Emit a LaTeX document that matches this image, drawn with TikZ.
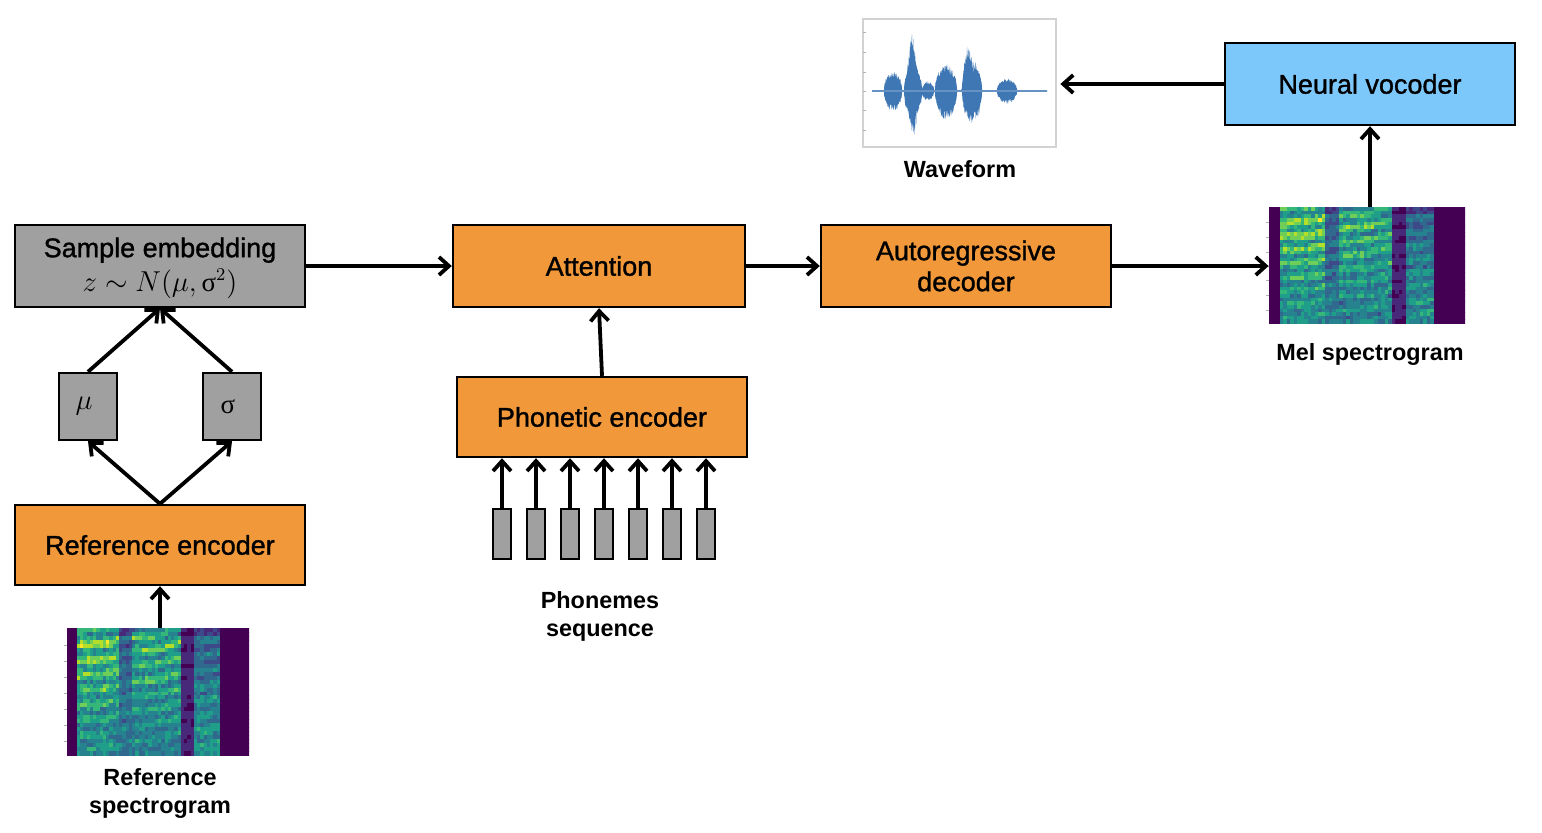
\documentclass[tikz,border=0pt]{standalone}
\usepackage[no-math]{fontspec}
\setmainfont{Liberation Sans}
\newfontfamily\grk{Liberation Serif}
\newfontfamily\boxfont[FakeBold=1.2]{Liberation Sans}
\usetikzlibrary{arrows.meta,calc}
\definecolor{orng}{HTML}{F0983A}
\definecolor{gry}{HTML}{A0A0A0}
\definecolor{sky}{HTML}{7DC8FA}
\definecolor{wblue}{HTML}{3E77B3}
\definecolor{vir0}{HTML}{440154}
\definecolor{vir1}{HTML}{482878}
\definecolor{vir2}{HTML}{3E4989}
\definecolor{vir3}{HTML}{31688E}
\definecolor{vir4}{HTML}{26828E}
\definecolor{vir5}{HTML}{1F9E89}
\definecolor{vir6}{HTML}{35B779}
\definecolor{vir7}{HTML}{6ECE58}
\definecolor{vir8}{HTML}{B5DE2B}
\definecolor{vir9}{HTML}{FDE725}
\newcommand\drawspec[5]{%
  \pgfmathsetseed{#5}%
  \begin{scope}
  \clip (#1,#2) rectangle ++(#3,#4);
  \fill[vir0] (#1,#2) rectangle ++(#3,#4);
  \foreach \i in {0,...,55}{
    \foreach \j in {0,...,31}{
      \pgfmathsetmacro\fx{(\i+0.5)/56}
      \pgfmathsetmacro\Et{(\fx<0.06) ? 0.05 : ((\fx<0.29) ? 1.05 : ((\fx<0.35) ? 0.45 : ((\fx<0.63) ? 0.95 : ((\fx<0.70) ? 0.18 : ((\fx<0.84) ? 0.5 : 0.02)))))}
      \pgfmathsetmacro\Eb{(\fx<0.06) ? 0.05 : ((\fx<0.29) ? 0.85 : ((\fx<0.35) ? 0.75 : ((\fx<0.63) ? 0.78 : ((\fx<0.70) ? 0.2 : ((\fx<0.84) ? 0.9 : 0.02)))))}
      \pgfmathsetmacro\w{\j/31}
      \pgfmathsetmacro\E{\Et*(1-\w)+\Eb*\w}
      \pgfmathsetmacro\st{0.5+0.5*sin(\j*95+\i*14+30*sin(\i*23))}
      \pgfmathsetmacro\L{\E*(0.36+0.36*\st*(1-0.6*\w)+0.25*rnd)*(\j<2 ? 0.75 : 1)}
      \pgfmathtruncatemacro\k{min(9,max(0,\L*10))}
      \fill[vir\k] ({#1+#3*\i/56},{#2+#4*\j/32}) rectangle ++({#3/56+0.6},{#4/32+0.6});
    }}
  \end{scope}
}
\begin{document}
\begin{tikzpicture}[x=0.5pt,y=-0.5pt,
  box/.style={draw=black, line width=1.2pt, inner sep=0pt, align=center, font=\boxfont\fontsize{13.5}{15.5}\selectfont},
  bigbox/.style={box, minimum width=145pt, minimum height=41pt},
  smallbox/.style={box, fill=gry, minimum width=29pt, minimum height=33.5pt},
  pbox/.style={draw=black, line width=1.2pt, fill=gry, minimum width=9pt, minimum height=25pt, inner sep=0pt},
  lbl/.style={font=\bfseries\fontsize{11.7}{14}\selectfont, align=center, inner sep=0pt},
  arr/.style={-{Straight Barb[length=5pt,width=9pt]}, line width=1.9pt},
  tick/.style={gray!60, line width=0.4pt},
  declare function={el(\x,\c,\s)=sqrt(max(0,1-((\x-\c)/\s)^2));
    tr(\x,\c,\s)=max(0,1-abs((\x-\c)/\s));
    wt(\x)=19*el(\x,893,9)+26*el(\x,913,9)+44*tr(\x,912,5)+9*el(\x,928,6)+27*el(\x,946,11)+30*el(\x,972,10)+20*tr(\x,967,6)+12*el(\x,1007,10)+0.8;
    wb(\x)=20*el(\x,893,9)+26*el(\x,913,9)+27*tr(\x,913,5)+9*el(\x,928,6)+28*el(\x,946,11)+32*el(\x,972,10)+12*el(\x,1007,10)+0.8;}
]
\useasboundingbox (0,0) rectangle (1542,832);

% boxes
\node[bigbox, fill=gry] (samp) at (160,266) {};
\node[align=center, inner sep=0pt, font=\boxfont\fontsize{13.5}{16}\selectfont] (sampt) at (160,268) {Sample embedding\\[1pt] $z \sim N(\mu,\mbox{\grk σ}^2)$};
\node[bigbox, fill=orng, minimum width=146pt] (att) at (599,266) {Attention};
\node[bigbox, fill=orng] (dec) at (966,266) {Autoregressive\\decoder};
\node[bigbox, fill=sky] (voc) at (1370,84) {Neural vocoder};
\node[smallbox] (mu) at (88,406.5) {\hspace*{-4pt}$\mu$};
\node[smallbox] (sig) at (232,406.5) {\hspace*{-4pt}{\grk σ}};
\node[bigbox, fill=orng, minimum height=40pt] (ref) at (160,545) {Reference encoder};
\node[bigbox, fill=orng, minimum height=40pt] (phon) at (602,417) {Phonetic encoder};

% phoneme boxes
\foreach \k in {0,...,6}{
  \node[pbox] (p\k) at ({502+34*\k},534) {};
  \draw[arr] (p\k.north) -- (p\k.north |- phon.south);
}

% spectrograms
\drawspec{67}{628}{182}{127}{11}
\drawspec{1269}{207}{196}{116}{5}
\node[minimum width=91pt, minimum height=63.5pt, inner sep=0pt] (rspec) at (158,691.5) {};
\node[minimum width=98pt, minimum height=58pt, inner sep=0pt] (mel) at (1367,265) {};
\foreach \t in {645,661,677,693,709,725,741}{\draw[tick] (64,\t) -- (67,\t);}
\foreach \t in {222,237,252,266,280,295,310}{\draw[tick] (1266,\t) -- (1269,\t);}

% waveform
\draw[gray!35, line width=0.6pt] (863,19) rectangle (1056,147);
\foreach \t in {32,52,72,91,110,130}{\draw[tick] (863,\t) -- (866,\t);}
\fill[wblue] (872,91) -- plot[domain=872:1047, samples=500] (\x,{91-wt(\x)*(0.62+0.38*rnd)}) -- (1047,91) -- cycle;
\fill[wblue] (872,91) -- plot[domain=872:1047, samples=500] (\x,{91+wb(\x)*(0.62+0.38*rnd)}) -- (1047,91) -- cycle;
\draw[wblue!80, line width=0.6pt] (872,91) -- (1047,91);
\node[minimum width=96.5pt, minimum height=64pt, inner sep=0pt] (wave) at (959.5,83) {};

% labels
\node[lbl] (wlab) at (960,169) {Waveform};
\node[lbl] (mlab) at (1370,354) {Mel spectrogram};
\node[lbl] (plab) at (600,616) {Phonemes\\sequence};
\node[lbl] (rlab) at (160,793) {Reference\\spectrogram};

% connectors
\draw[arr] (samp.east) -- (att.west);
\draw[arr] (att.east) -- (dec.west);
\draw[arr] (dec.east) -- (dec.east -| mel.west);
\draw[arr] (voc.south |- mel.north) -- (voc.south);
\draw[arr, shorten >=2pt] (voc.west) -- (wave.east |- voc.west);
\draw[arr] (phon.north) -- (att.south);
\draw[arr] (rspec.north -| ref.south) -- (ref.south);
\draw[arr] (ref.north) -- (mu.south);
\draw[arr] (ref.north) -- (sig.south);
\draw[arr] (mu.north) -- (samp.south);
\draw[arr] (sig.north) -- (samp.south);
\end{tikzpicture}
\end{document}
